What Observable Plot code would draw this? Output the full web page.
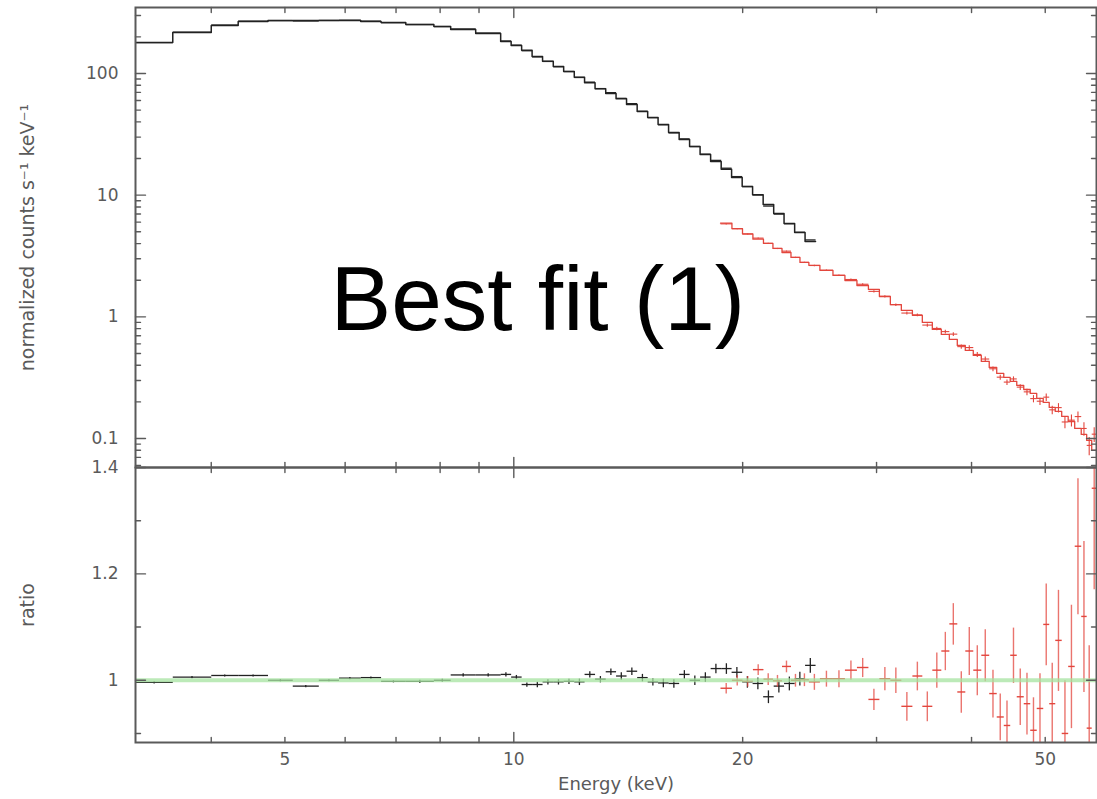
<!DOCTYPE html>
<html><head><meta charset="utf-8">
<script src="https://cdn.jsdelivr.net/npm/d3@7"></script>
<script src="https://cdn.jsdelivr.net/npm/@observablehq/plot@0.6"></script>
<style>
html,body{margin:0;padding:0;background:#fff;}
#wrap{position:relative;width:1097px;height:799px;overflow:hidden;background:#fff;}
#topPanel,#botPanel{position:absolute;left:0;}
#topPanel{top:0;} #botPanel{top:460px;}
</style></head><body>
<div id="wrap"><div id="topPanel"></div><div id="botPanel"></div></div>
<script>
// ---- black spectrum (lower-energy instrument) ----
const blackEdges = [3.18, 3.56, 4.00, 4.34, 4.75, 5.12, 5.54, 5.89, 6.29, 6.69, 7.21, 7.85, 8.26, 8.91, 9.61, 9.92, 10.24, 10.57, 10.91, 11.27, 11.63, 12.01, 12.39, 12.79, 13.21, 13.63, 14.07, 14.53, 15.00, 15.48, 15.98, 16.50, 17.03, 17.58, 18.15, 18.74, 19.34, 19.97, 20.61, 21.28, 21.97, 22.67, 23.41, 24.16, 24.94];
const blackModel = [180, 217, 248, 267, 272, 273, 273, 273, 268, 262, 253, 243, 230, 213, 183, 170, 155, 138, 126, 114, 104, 93, 84, 75, 68.5, 62, 55.6, 48.7, 43.5, 38.1, 32.7, 28.7, 25.1, 21.6, 18.9, 16.3, 14.0, 11.8, 10.1, 8.4, 7.07, 5.86, 4.94, 4.17];
const blackRatio = [0.996, 1.006, 1.009, 1.009, 1.000, 0.989, 1.000, 1.004, 1.005, 0.998, 0.998, 1.000, 1.010, 1.010, 1.011, 1.006, 0.992, 0.992, 0.997, 0.997, 0.998, 0.997, 1.011, 1.002, 1.016, 1.008, 1.017, 1.005, 0.997, 0.995, 0.994, 1.011, 1.000, 1.006, 1.022, 1.022, 1.015, 0.997, 0.994, 0.969, 0.989, 0.994, 1.003, 1.028];
const blackErr = [0.002, 0.002, 0.002, 0.002, 0.002, 0.002, 0.002, 0.002, 0.002, 0.002, 0.003, 0.003, 0.003, 0.003, 0.004, 0.004, 0.004, 0.005, 0.005, 0.005, 0.005, 0.006, 0.006, 0.006, 0.006, 0.007, 0.007, 0.007, 0.007, 0.008, 0.008, 0.008, 0.009, 0.009, 0.009, 0.010, 0.010, 0.011, 0.011, 0.012, 0.012, 0.013, 0.013, 0.014];

// ---- red spectrum (higher-energy instrument) ----
const redEdges = [18.70, 19.36, 19.99, 20.63, 21.30, 21.92, 22.53, 23.15, 23.79, 24.44, 25.27, 26.29, 27.26, 28.27, 29.27, 30.26, 31.28, 32.34, 33.44, 34.46, 35.52, 36.50, 37.40, 38.31, 39.25, 40.21, 41.20, 42.20, 43.17, 44.10, 44.97, 45.87, 46.85, 47.78, 48.73, 49.70, 50.61, 51.54, 52.56, 53.60, 54.67, 55.76, 56.69, 57.56, 58.43];
const redModel = [5.9, 5.3, 4.8, 4.35, 4.01, 3.65, 3.38, 3.08, 2.80, 2.65, 2.41, 2.19, 1.99, 1.81, 1.68, 1.47, 1.26, 1.13, 1.03, 0.90, 0.788, 0.717, 0.652, 0.582, 0.530, 0.482, 0.430, 0.384, 0.343, 0.318, 0.295, 0.273, 0.253, 0.235, 0.214, 0.198, 0.180, 0.167, 0.152, 0.138, 0.121, 0.108, 0.0965, 0.0798];
const redRatio = [0.985, 1.000, 0.998, 1.020, 1.002, 0.999, 1.026, 1.000, 1.001, 0.997, 1.003, 1.003, 1.019, 1.024, 0.964, 1.003, 1.000, 0.951, 1.008, 0.951, 1.019, 1.055, 1.106, 0.978, 1.055, 1.019, 1.047, 0.975, 0.931, 0.915, 1.047, 0.969, 0.956, 0.906, 0.947, 1.105, 0.956, 1.075, 0.900, 1.026, 1.252, 1.120, 0.910, 1.361];
const redErr = [0.010, 0.010, 0.010, 0.010, 0.011, 0.011, 0.011, 0.012, 0.012, 0.015, 0.015, 0.016, 0.018, 0.018, 0.020, 0.022, 0.024, 0.027, 0.027, 0.028, 0.033, 0.036, 0.039, 0.039, 0.045, 0.047, 0.049, 0.045, 0.044, 0.047, 0.052, 0.053, 0.058, 0.062, 0.066, 0.077, 0.077, 0.095, 0.100, 0.116, 0.128, 0.142, 0.156, 0.190];

// ---- ticks and labels ----
const xLabelTicks = [5, 10, 20, 50];
const xMajorTicks = [10];
const xMinorTicks = [4, 5, 6, 7, 8, 9, 20, 30, 40, 50];
const yTopLabelTicks = [0.1, 1, 10, 100];
const yTopMinorTicks = [0.06, 0.07, 0.08, 0.09, 0.2, 0.3, 0.4, 0.5, 0.6, 0.7, 0.8, 0.9, 2, 3, 4, 5, 6, 7, 8, 9, 20, 30, 40, 50, 60, 70, 80, 90, 200, 300];
const ratioLabelTicks = [1, 1.2, 1.4];
const ratioMinorTicks = [0.9, 1.1, 1.3];
const topYLabel = "normalized counts s\u207B\u00B9 keV\u207B\u00B9";
const botYLabel = "ratio";
const xLabel = "Energy (keV)";
const overlayText = "Best fit (1)";

const xDomain = [3.18, 58.4];
const yTopDomain = [0.0578, 348.6];
const ratioDomain = [0.883, 1.4];

const BLACK = "#222", RED = "#e3463d", GREEN = "#a6e3a0", AXIS = "#5a5a5a";

function bins(edges, model, ratio, err) {
  return model.map((m, i) => ({
    lo: edges[i], hi: edges[i + 1], mid: Math.sqrt(edges[i] * edges[i + 1]),
    model: m, ratio: ratio[i], err: err[i]
  }));
}
const blackBins = bins(blackEdges, blackModel, blackRatio, blackErr);
const redBins = bins(redEdges, redModel, redRatio, redErr);
const stepOf = b => b.flatMap(d => [{x: d.lo, y: d.model}, {x: d.hi, y: d.model}]);

const tickShape = {draw(ctx, l) { ctx.moveTo(0, 0); ctx.lineTo(0, -l); }};
function yTicks(values, len) {
  const o = {y: d => d, length: len, anchor: "start", shape: tickShape, stroke: AXIS, strokeWidth: 1.4};
  return [Plot.vector(values, {...o, frameAnchor: "left", rotate: 90}),
          Plot.vector(values, {...o, frameAnchor: "right", rotate: -90})];
}
function xTicks(values, len) {
  const o = {x: d => d, length: len, anchor: "start", shape: tickShape, stroke: AXIS, strokeWidth: 1.4};
  return [Plot.vector(values, {...o, frameAnchor: "top", rotate: 180}),
          Plot.vector(values, {...o, frameAnchor: "bottom", rotate: 0})];
}
const plotStyle = {fontFamily: "'DejaVu Sans', sans-serif", fontSize: "17px", color: AXIS, background: "transparent", overflow: "visible"};

const topChart = Plot.plot({
  width: 1097, height: 470,
  marginTop: 7, marginBottom: 3, marginLeft: 135, marginRight: 1,
  style: plotStyle,
  x: {type: "log", domain: xDomain, axis: null},
  y: {type: "log", domain: yTopDomain, axis: null},
  marks: [
    Plot.line(stepOf(blackBins), {x: "x", y: "y", stroke: BLACK, strokeWidth: 1.5, clip: true}),
    Plot.link(blackBins, {x1: "lo", x2: "hi", y1: d => d.model * d.ratio, y2: d => d.model * d.ratio, stroke: BLACK, strokeWidth: 1.3, clip: true}),
    Plot.line(stepOf(redBins), {x: "x", y: "y", stroke: RED, strokeWidth: 1.3, clip: true}),
    Plot.link(redBins, {x1: "lo", x2: "hi", y1: d => d.model * d.ratio, y2: d => d.model * d.ratio, stroke: RED, strokeWidth: 1.1, clip: true}),
    Plot.link(redBins, {x1: "mid", x2: "mid", y1: d => d.model * (d.ratio - d.err), y2: d => d.model * (d.ratio + d.err), stroke: RED, strokeWidth: 1.1, clip: true}),
    Plot.frame({stroke: AXIS, strokeWidth: 2}),
    ...yTicks(yTopLabelTicks, 10),
    ...yTicks(yTopMinorTicks, 5),
    ...xTicks(xMajorTicks, 10),
    ...xTicks(xMinorTicks, 5),
    Plot.axisY(yTopLabelTicks, {tickSize: 0, tickPadding: 17, tickFormat: d => String(d), label: null, fill: AXIS, fontSize: 17}),
    Plot.text([topYLabel], {text: d => d, frameAnchor: "left", rotate: -90, dx: -102, lineAnchor: "bottom", textAnchor: "middle", fontSize: 19, fill: AXIS}),
    Plot.text([overlayText], {text: d => d, frameAnchor: "top-left", dx: 195, dy: 258, lineAnchor: "top", textAnchor: "start", fontSize: 91, fill: "#000", fontFamily: "'Liberation Sans', Arial, sans-serif"})
  ]
});
document.getElementById("topPanel").appendChild(topChart);

const botChart = Plot.plot({
  width: 1097, height: 339,
  marginTop: 7, marginBottom: 57, marginLeft: 135, marginRight: 1,
  style: plotStyle,
  x: {type: "log", domain: xDomain, axis: null},
  y: {domain: ratioDomain, axis: null},
  marks: [
    Plot.link(blackBins, {x1: "lo", x2: "hi", y1: "ratio", y2: "ratio", stroke: BLACK, strokeWidth: 1.3, clip: true}),
    Plot.link(blackBins, {x1: "mid", x2: "mid", y1: d => d.ratio - d.err, y2: d => d.ratio + d.err, stroke: BLACK, strokeWidth: 1.3, clip: true}),
    Plot.link(redBins, {x1: "lo", x2: "hi", y1: "ratio", y2: "ratio", stroke: RED, strokeWidth: 1.4, clip: true}),
    Plot.link(redBins, {x1: "mid", x2: "mid", y1: d => d.ratio - d.err, y2: d => d.ratio + d.err, stroke: RED, strokeWidth: 1.4, strokeOpacity: 0.75, clip: true}),
    Plot.ruleY([1], {stroke: GREEN, strokeWidth: 4, strokeOpacity: 0.75}),
    Plot.frame({stroke: AXIS, strokeWidth: 2}),
    ...yTicks(ratioLabelTicks, 10),
    ...yTicks(ratioMinorTicks, 5),
    ...xTicks(xMajorTicks, 10),
    ...xTicks(xMinorTicks, 5),
    Plot.axisY(ratioLabelTicks, {tickSize: 0, tickPadding: 17, tickFormat: d => String(d), label: null, fill: AXIS, fontSize: 17}),
    Plot.axisX(xLabelTicks, {tickSize: 0, tickPadding: 10, tickFormat: d => String(d), label: null, fill: AXIS, fontSize: 17}),
    Plot.text([botYLabel], {text: d => d, frameAnchor: "left", rotate: -90, dx: -102, lineAnchor: "bottom", textAnchor: "middle", fontSize: 19, fill: AXIS}),
    Plot.text([xLabel], {text: d => d, frameAnchor: "bottom", dy: 35, lineAnchor: "top", textAnchor: "middle", fontSize: 18, fill: AXIS})
  ]
});
document.getElementById("botPanel").appendChild(botChart);
</script>
</body></html>
